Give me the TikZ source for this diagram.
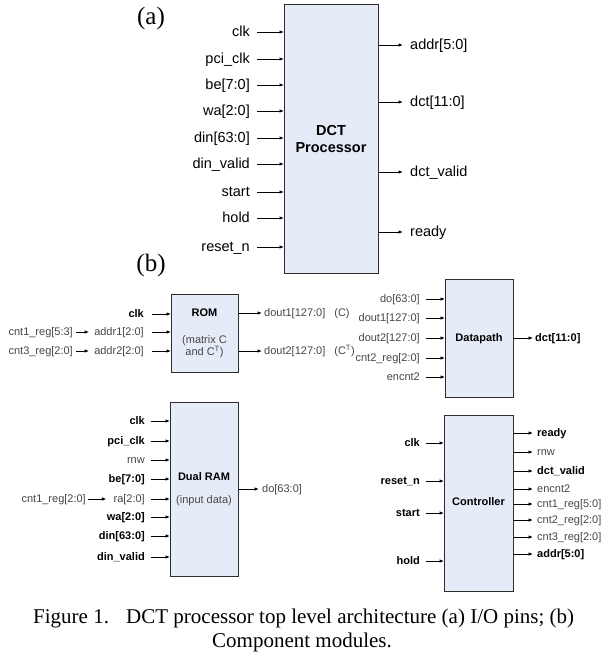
\documentclass[tikz,border=0pt]{standalone}
\usepackage{fontspec}
\setmainfont{Liberation Serif}
\setsansfont{Liberation Sans}
\usetikzlibrary{arrows.meta}
\definecolor{boxfill}{RGB}{230,236,247}
\definecolor{edge}{RGB}{45,45,45}
\definecolor{soft}{RGB}{70,70,70}
\begin{document}
\begin{tikzpicture}[x=1pt,y=-1pt,
  blk/.style={draw=edge, fill=boxfill, line width=1.1pt, inner sep=0pt},
  arr/.style={-{Latex[length=4.5pt,width=3.6pt]}, line width=0.9pt},
  lbig/.style={font=\sffamily\fontsize{14.5}{17}\selectfont, inner sep=0pt, text height=10.5pt, text depth=1.5pt},
  lsb/.style={font=\sffamily\bfseries\fontsize{11}{12}\selectfont, inner sep=0pt, text height=8pt, text depth=1.1pt},
  lsr/.style={font=\sffamily\fontsize{11}{12}\selectfont, text=soft, inner sep=0pt, text height=8pt, text depth=1.1pt},
  tag/.style={font=\rmfamily\fontsize{25}{28}\selectfont, inner sep=0pt},
  captxt/.style={font=\rmfamily\fontsize{21}{24}\selectfont, inner sep=0pt}
]
\useasboundingbox (0,0) rectangle (603,653);

% ---------------- (a) ----------------
\node[tag] (la) at (151,18) {(a)};
\node[blk, minimum width=94pt, minimum height=269pt, anchor=north west] (dct) at (284,4) {};
\node[font=\sffamily\bfseries\fontsize{14.5}{17}\selectfont, align=center] (dctt) at (331,139) {DCT\\Processor};
\foreach \t/\y/\n in {clk/32/ai1, pci\_clk/59/ai2, be[7:0]/85/ai3, wa[2:0]/111/ai4, din[63:0]/138/ai5, din\_valid/164/ai6, start/192/ai7, hold/218/ai8, reset\_n/247/ai9}{
  \node[lbig, anchor=east] (\n) at (250,\y) {\t};
  \draw[arr] ([xshift=7pt]\n.east) -- (\n.east -| dct.west);
}
\foreach \t/\y/\n in {addr[5:0]/45/ao1, dct[11:0]/102/ao2, dct\_valid/172/ao3, ready/232/ao4}{
  \node[lbig, anchor=west] (\n) at (410,\y) {\t};
  \draw[arr] (\n.west -| dct.east) -- ([xshift=-7pt]\n.west);
}

% ---------------- (b) ----------------
\node[tag] (lb) at (151,265) {(b)};

% ROM
\node[blk, minimum width=67pt, minimum height=78pt, anchor=north west] (rom) at (171,294) {};
\node[lsb] (romt) at (204.5,313) {ROM};
\node[font=\sffamily\fontsize{11}{11.5}\selectfont, text=soft, align=center, inner sep=0pt] (romd) at (204.5,346.5) {(matrix C\\and C\textsuperscript{T})};
\foreach \t/\y/\n/\s in {clk/314/ri1/lsb, addr1[2:0]/332/ri2/lsr, addr2[2:0]/351/ri3/lsr}{
  \node[\s, anchor=east] (\n) at (144,\y) {\t};
  \draw[arr] ([xshift=8pt]\n.east) -- (\n.east -| rom.west);
}
\node[lsr, anchor=east] (rc1) at (73,332) {cnt1\_reg[5:3]};
\draw[arr] ([xshift=3pt]rc1.east) -- ([xshift=-5pt]ri2.west);
\node[lsr, anchor=east] (rc3) at (73,351) {cnt3\_reg[2:0]};
\draw[arr] ([xshift=3pt]rc3.east) -- ([xshift=-5pt]ri3.west);
\node[lsr, anchor=west] (ro1) at (264,313) {dout1[127:0]\hspace{9pt}(C)};
\draw[arr] (ro1.west -| rom.east) -- ([xshift=-2pt]ro1.west);
\node[lsr, anchor=west] (ro2) at (264,351) {dout2[127:0]\hspace{9pt}(C\textsuperscript{T})};
\draw[arr] (ro2.west -| rom.east) -- ([xshift=-2pt]ro2.west);

% Datapath
\node[blk, minimum width=68pt, minimum height=118pt, anchor=north west] (dp) at (445,279) {};
\node[lsb] (dpt) at (479,338) {Datapath};
\foreach \t/\y/\n in {do[63:0]/299/di1, dout1[127:0]/318/di2, dout2[127:0]/338/di3, cnt2\_reg[2:0]/358/di4, encnt2/377/di5}{
  \node[lsr, anchor=east] (\n) at (420,\y) {\t};
  \draw[arr] ([xshift=6pt]\n.east) -- (\n.east -| dp.west);
}
\node[lsb, anchor=west] (do1) at (535,338) {dct[11:0]};
\draw[arr] (do1.west -| dp.east) -- ([xshift=-2pt]do1.west);

% Dual RAM
\node[blk, minimum width=68pt, minimum height=174pt, anchor=north west] (ram) at (170,402) {};
\node[lsb] (ramt) at (204,477) {Dual RAM};
\node[lsr] (ramd) at (204,500) {(input data)};
\foreach \t/\y/\n/\s in {clk/421/mi1/lsb, pci\_clk/441/mi2/lsb, rnw/460/mi3/lsr, be[7:0]/479/mi4/lsb, ra[2:0]/499/mi5/lsr, wa[2:0]/517/mi6/lsb, din[63:0]/536/mi7/lsb, din\_valid/557/mi8/lsb}{
  \node[\s, anchor=east] (\n) at (145,\y) {\t};
  \draw[arr] ([xshift=6pt]\n.east) -- (\n.east -| ram.west);
}
\node[lsr, anchor=east] (mc1) at (86,499) {cnt1\_reg[2:0]};
\draw[arr] ([xshift=2pt]mc1.east) -- ([xshift=-7pt]mi5.west);
\node[lsr, anchor=west] (mo1) at (262,489) {do[63:0]};
\draw[arr] (mo1.west -| ram.east) -- ([xshift=-3pt]mo1.west);

% Controller
\node[blk, minimum width=69pt, minimum height=176pt, anchor=north west] (ctl) at (444,415) {};
\node[lsb] (ctlt) at (478.5,502) {Controller};
\foreach \t/\y/\n in {clk/443/ci1, reset\_n/481/ci2, start/513/ci3, hold/561/ci4}{
  \node[lsb, anchor=east] (\n) at (420,\y) {\t};
  \draw[arr] ([xshift=6pt]\n.east) -- (\n.east -| ctl.west);
}
\foreach \t/\y/\n/\s in {ready/433/co1/lsb, rnw/452/co2/lsr, dct\_valid/471/co3/lsb, encnt2/489/co4/lsr, cnt1\_reg[5:0]/504/co5/lsr, cnt2\_reg[2:0]/520/co6/lsr, cnt3\_reg[2:0]/537/co7/lsr, addr[5:0]/554/co8/lsb}{
  \node[\s, anchor=west] (\n) at (537,\y) {\t};
  \draw[arr] (\n.west -| ctl.east) -- ([xshift=-4pt]\n.west);
}

% caption
\node[captxt, anchor=base west] (cp1) at (33,623) {Figure 1.};
\node[captxt, anchor=base west] (cp2) at (126,623) {DCT processor top level architecture (a) I/O pins; (b)};
\node[captxt, anchor=base] (cp3) at (302,647) {Component modules.};
\end{tikzpicture}
\end{document}
